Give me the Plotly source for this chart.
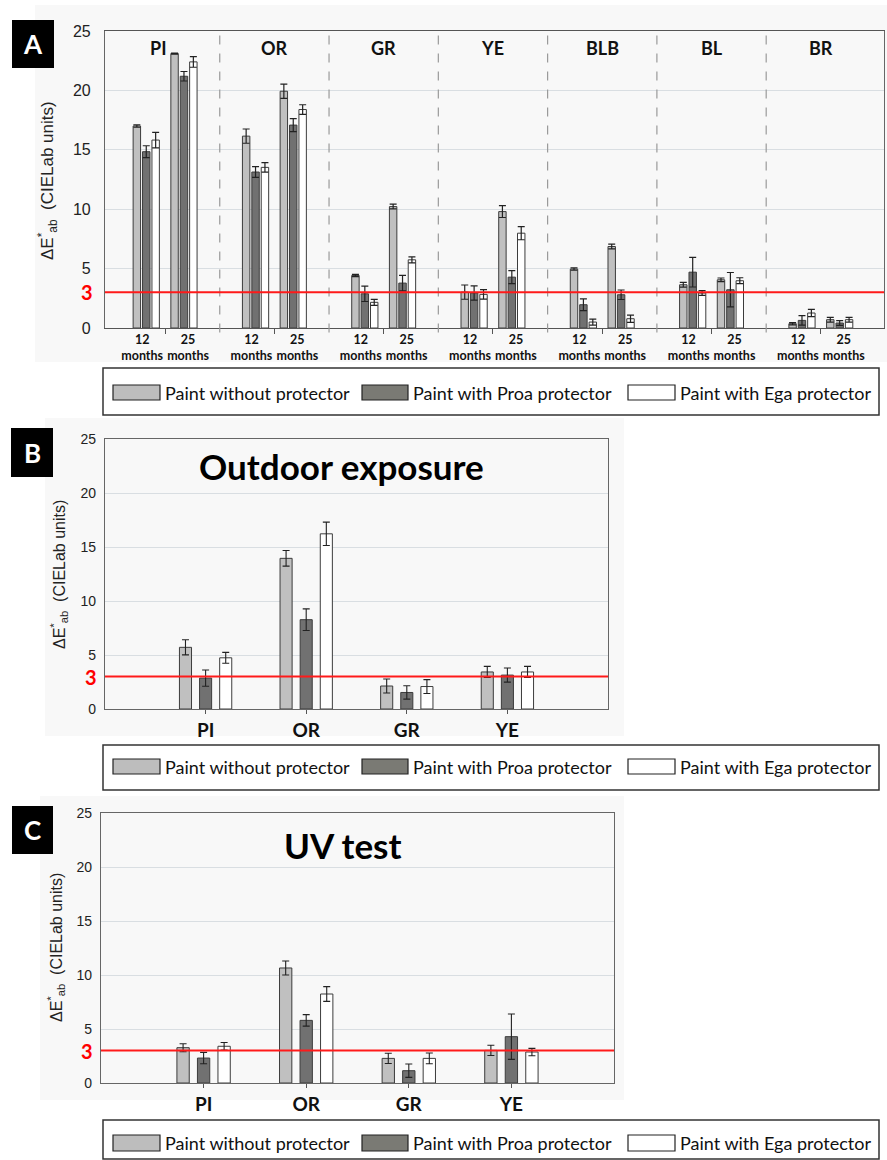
import numpy as np
import plotly.graph_objects as go

# ---------------- data ----------------
series_names = ["Paint without protector", "Paint with Proa protector", "Paint with Ega protector"]

colours_a = ["PI", "OR", "GR", "YE", "BLB", "BL", "BR"]
periods_a = ["12<br>months", "25<br>months"]
# panel A, ordered PI-12, PI-25, OR-12, OR-25, ...
a_without = [17.0, 23.1, 16.15, 19.93, 4.42, 10.22, 3.02, 9.8, 4.96, 6.86, 3.64, 4.06, 0.36, 0.7]
a_without_err = [0.1, 0.05, 0.6, 0.6, 0.1, 0.2, 0.6, 0.5, 0.1, 0.2, 0.2, 0.15, 0.1, 0.2]
a_proa = [14.84, 21.19, 13.13, 17.08, 2.88, 3.78, 2.94, 4.28, 1.96, 2.8, 4.7, 3.22, 0.64, 0.42]
a_proa_err = [0.5, 0.4, 0.45, 0.55, 0.65, 0.65, 0.6, 0.55, 0.5, 0.4, 1.25, 1.45, 0.4, 0.2]
a_ega = [15.82, 22.4, 13.52, 18.39, 2.16, 5.74, 2.83, 7.98, 0.5, 0.78, 2.94, 3.98, 1.26, 0.7]
a_ega_err = [0.65, 0.45, 0.4, 0.4, 0.25, 0.25, 0.4, 0.55, 0.25, 0.3, 0.2, 0.25, 0.3, 0.2]

colours_bc = ["PI", "OR", "GR", "YE"]
# panel B: outdoor exposure
b_without = [5.71, 13.95, 2.13, 3.43]
b_without_err = [0.7, 0.72, 0.65, 0.52]
b_proa = [2.86, 8.27, 1.53, 3.14]
b_proa_err = [0.75, 1.0, 0.62, 0.65]
b_ega = [4.74, 16.22, 2.08, 3.43]
b_ega_err = [0.5, 1.08, 0.64, 0.52]
# panel C: UV test
c_without = [3.27, 10.65, 2.28, 3.02]
c_without_err = [0.37, 0.65, 0.47, 0.47]
c_proa = [2.31, 5.8, 1.14, 4.29]
c_proa_err = [0.53, 0.53, 0.62, 2.1]
c_ega = [3.4, 8.24, 2.28, 2.87]
c_ega_err = [0.35, 0.68, 0.5, 0.34]

threshold = 3
y_ticks = [0, 5, 10, 15, 20, 25]
panel_titles = ["Outdoor exposure", "UV test"]
panel_letters = ["A", "B", "C"]

# ---------------- style ----------------
W, H = 887, 1160
fills = ["#c0c0c0", "#717171", "#ffffff"]
legend_fills = ["#bdbdbd", "#7a7a74", "#ffffff"]
edge = "#3c3c3c"
NUM = "Liberation Sans"
CAL = "Lato"


def px(x):
    return x / W


def py(y):
    return 1 - y / H


fig = go.Figure()

# ---------- panel A bars ----------
g_idx = np.repeat(np.arange(len(colours_a)), 2)
t_idx = np.tile(np.arange(2), len(colours_a))
cluster_x = g_idx + (t_idx - 0.5) * 0.345
a_series = [(a_without, a_without_err), (a_proa, a_proa_err), (a_ega, a_ega_err)]
bw_a, pitch_a = 0.068, 0.086
for s, (vals, errs) in enumerate(a_series):
    fig.add_trace(go.Bar(
        x=cluster_x, y=vals, name=series_names[s],
        offset=(s - 1) * pitch_a - bw_a / 2, width=bw_a,
        marker=dict(color=fills[s], line=dict(color=edge, width=1)),
        error_y=dict(type="data", array=errs, color="#222", thickness=1.2, width=3.5),
        xaxis="x", yaxis="y", showlegend=False))

# ---------- panels B and C bars ----------
bc_x = np.arange(1, len(colours_bc) + 1)
bw_bc, pitch_bc = 0.12, 0.2
for ax, series in (("2", [(b_without, b_without_err), (b_proa, b_proa_err), (b_ega, b_ega_err)]),
                   ("3", [(c_without, c_without_err), (c_proa, c_proa_err), (c_ega, c_ega_err)])):
    for s, (vals, errs) in enumerate(series):
        fig.add_trace(go.Bar(
            x=bc_x, y=vals, name=series_names[s],
            offset=(s - 1) * pitch_bc - bw_bc / 2, width=bw_bc,
            marker=dict(color=fills[s], line=dict(color=edge, width=1)),
            error_y=dict(type="data", array=errs, color="#222", thickness=1.1, width=3.5),
            xaxis="x" + ax, yaxis="y" + ax, showlegend=False))

grid = "#d9dee2"
yaxis_common = dict(range=[0, 25], tickvals=y_ticks, showgrid=True, gridcolor=grid, gridwidth=1,
                    showline=True, linecolor="#666", linewidth=1.2, mirror=True,
                    ticks="", zeroline=False, fixedrange=True)

# pixel geometry of the three plot areas
A_dom_x, A_dom_y = [px(105), px(884)], [py(328), py(31)]
B_dom_x, B_dom_y = [px(105), px(608)], [py(709), py(439)]
C_dom_x, C_dom_y = [px(101), px(614)], [py(1083), py(813)]

label_x = g_idx + (t_idx - 0.5) * 0.42
fig.update_layout(
    template="none",
    width=W, height=H,
    margin=dict(l=0, r=0, t=0, b=0),
    paper_bgcolor="white",
    plot_bgcolor="#fbfbfb",
    barmode="overlay",
    font=dict(family=NUM, color="#222", size=14),
    xaxis=dict(domain=A_dom_x, anchor="y", range=[-0.55, 6.578],
               tickvals=label_x, ticktext=[periods_a[t] for t in t_idx], tickangle=0,
               ticks="outside", ticklen=0,
               tickfont=dict(family=CAL, size=12.5, color="#111", weight="bold"),
               minor=dict(tickvals=list(range(len(colours_a))), ticks="outside", ticklen=5,
                          tickcolor="#555", showgrid=False),
               showgrid=False, showline=True, linecolor="#555", linewidth=1.2, mirror=True,
               zeroline=False, automargin=False),
    yaxis=dict(domain=A_dom_y, anchor="x", tickfont=dict(size=16, color="#222"),
               ticklabelstandoff=10, automargin=False, **yaxis_common),
    xaxis2=dict(domain=B_dom_x, anchor="y2", range=[0, 5], tickvals=bc_x, ticktext=colours_bc,
                ticks="outside", ticklen=4, tickcolor="#555",
                tickfont=dict(family=CAL, size=19, color="#111", weight="bold"), tickangle=0,
                showgrid=False, showline=True, linecolor="#666", linewidth=1.2, mirror=True,
                zeroline=False, automargin=False),
    yaxis2=dict(domain=B_dom_y, anchor="x2", tickfont=dict(size=14, color="#222"),
                ticklabelstandoff=5, automargin=False, **yaxis_common),
    xaxis3=dict(domain=C_dom_x, anchor="y3", range=[0, 5], tickvals=bc_x, ticktext=colours_bc,
                ticks="outside", ticklen=4, tickcolor="#555",
                tickfont=dict(family=CAL, size=19, color="#111", weight="bold"), tickangle=0,
                showgrid=False, showline=True, linecolor="#666", linewidth=1.2, mirror=True,
                zeroline=False, automargin=False),
    yaxis3=dict(domain=C_dom_y, anchor="x3", tickfont=dict(size=14, color="#222"),
                ticklabelstandoff=5, automargin=False, **yaxis_common),
)

shapes = []
ann = []

# faint panel backgrounds
for (x0, y0, x1, y1) in [(35, 5, 887, 362), (45, 418, 624, 736), (40, 796, 624, 1100)]:
    shapes.append(dict(type="rect", xref="paper", yref="paper", x0=px(x0), x1=px(x1),
                       y0=py(y1), y1=py(y0), fillcolor="#f8f8f8", line=dict(width=0), layer="below"))

# dashed separators between colour groups in A
for k in range(len(colours_a) - 1):
    shapes.append(dict(type="line", xref="x", yref="y domain", x0=k + 0.5, x1=k + 0.5,
                       y0=-0.015, y1=1, line=dict(color="#9a9a9a", width=1.2, dash="dash")))

# red threshold lines + red "3" labels
for xa, ya, xr in (("x", "y", 95), ("x2", "y2", 99), ("x3", "y3", 95)):
    shapes.append(dict(type="line", xref=xa + " domain", yref=ya, x0=0, x1=1,
                       y0=threshold, y1=threshold, line=dict(color="#ff1a1a", width=2)))
    ann.append(dict(text="<b>%d</b>" % threshold, xref="paper", yref=ya, x=px(xr), y=threshold,
                    xanchor="right", yanchor="middle", showarrow=False,
                    font=dict(family=CAL, size=20, color="#ff0000")))

# colour group labels in A
for k, name in enumerate(colours_a):
    ann.append(dict(text="<b>%s</b>" % name, xref="x", yref="paper", x=k, y=py(48),
                    xanchor="center", yanchor="middle", showarrow=False,
                    xshift=-7 if k == 0 else 0,
                    font=dict(family=CAL, size=18, color="#111")))

# y-axis titles
ytitle = "ΔE<sup>*</sup><sub>ab</sub>\u00a0\u00a0(CIELab units)"
for (xc, yc, sz) in ((48, 181, 17), (59, 575, 16), (56, 948, 16)):
    ann.append(dict(text=ytitle, xref="paper", yref="paper", x=px(xc), y=py(yc), textangle=-90,
                    xanchor="center", yanchor="middle", showarrow=False,
                    font=dict(family=NUM, size=sz, color="#222")))

# panel titles B, C
for title, (xc, yc) in zip(panel_titles, ((341, 466), (342, 845))):
    ann.append(dict(text="<b>%s</b>" % title, xref="paper", yref="paper", x=px(xc), y=py(yc),
                    xanchor="center", yanchor="middle", showarrow=False,
                    font=dict(family=CAL, size=35, color="#000")))

# panel letters
for letter, (x0, y0, x1, y1) in zip(panel_letters, ((12, 20, 54, 68), (11, 428, 53, 477), (12, 806, 53, 854))):
    shapes.append(dict(type="rect", xref="paper", yref="paper", x0=px(x0), x1=px(x1),
                       y0=py(y1), y1=py(y0), fillcolor="#000", line=dict(width=0)))
    ann.append(dict(text="<b>%s</b>" % letter, xref="paper", yref="paper", x=px((x0 + x1) / 2),
                    y=py((y0 + y1) / 2), xanchor="center", yanchor="middle", showarrow=False,
                    font=dict(family=CAL, size=26, color="#fff")))

# legends (one box under each panel)
sw_x = [(113, 160), (362, 408), (628, 675)]
for (top, bot, sw_top, sw_bot) in ((368, 415, 385, 400), (745, 790, 759, 774), (1120, 1159, 1135, 1151)):
    shapes.append(dict(type="rect", xref="paper", yref="paper", x0=px(103), x1=px(879),
                       y0=py(bot), y1=py(top), fillcolor="white", line=dict(color="#333", width=1.5)))
    for s, (x0, x1) in enumerate(sw_x):
        shapes.append(dict(type="rect", xref="paper", yref="paper", x0=px(x0), x1=px(x1),
                           y0=py(sw_bot), y1=py(sw_top), fillcolor=legend_fills[s],
                           line=dict(color="#222", width=1.2)))
        ann.append(dict(text=series_names[s], xref="paper", yref="paper", x=px(x1 + 3),
                        y=py((sw_top + sw_bot) / 2), xanchor="left", yanchor="middle", showarrow=False,
                        font=dict(family=CAL, size=18, color="#111")))

fig.update_layout(shapes=shapes, annotations=ann)
fig.write_html("out.html")
